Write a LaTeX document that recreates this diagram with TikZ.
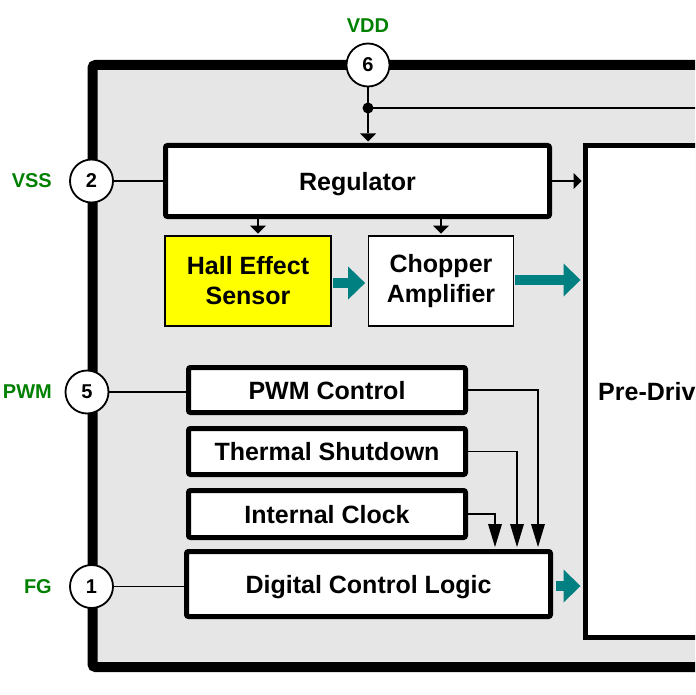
\documentclass[tikz,border=0pt]{standalone}
\usepackage{fontspec}
\setmainfont{Liberation Sans}
\usetikzlibrary{arrows.meta}
\definecolor{pingreen}{RGB}{0,128,0}
\definecolor{bigteal}{RGB}{0,128,128}
\definecolor{bggray}{RGB}{230,230,230}
\definecolor{hallyellow}{RGB}{255,255,0}
\begin{document}
\begin{tikzpicture}[x=1pt,y=-1pt,
  blk/.style={draw=black, line width=5pt, fill=white, rounded corners=2pt, inner sep=0pt,
    text height=18pt, text depth=0pt,
    font=\fontsize{25}{30}\selectfont\bfseries, align=center},
  thinblk/.style={draw=black, line width=1.8pt, inner sep=0pt,
    font=\fontsize{25}{30}\selectfont\bfseries, align=center},
  pin/.style={circle, draw=black, line width=1.8pt, fill=white, minimum size=43pt, inner sep=0pt,
    font=\fontsize{20}{24}\selectfont\bfseries},
  pinlabel/.style={text=pingreen, font=\fontsize{20}{24}\selectfont\bfseries, inner sep=0pt},
  wire/.style={line width=1.5pt, draw=black},
  arr/.style={wire, shorten >=1.5pt, -{Triangle[length=8pt,width=16pt,line width=0pt]}},
  bigarr/.style={wire, shorten >=2pt, -{Triangle[length=23pt,width=14pt,line width=0pt]}},
  fat/.style={draw=bigteal, line width=10pt, shorten >=2.5pt, shorten <=2.5pt,
    -{Triangle[length=17pt,width=33pt,line width=0pt]}},
]
\clip (0,0) rectangle (695,695);
\fill[white] (0,0) rectangle (695,695);
% chip outline
\draw[line width=10pt, fill=bggray, rounded corners=3pt] (92.5,65) rectangle (840,667);

% blocks
\node[blk, minimum width=384pt, minimum height=71pt] (reg) at (357.5,181) {Regulator};
\node[thinblk, fill=hallyellow, minimum width=166pt, minimum height=90pt] (hall) at (248,281) {Hall Effect\\Sensor};
\node[thinblk, fill=white, minimum width=145pt, minimum height=90pt] (chop) at (441,281) {Chopper\\Amplifier};
\node[blk, rounded corners=0pt, minimum width=260pt, minimum height=492pt] (pd) at (715.5,391.5) {};
\node[font=\fontsize{25}{30}\selectfont\bfseries, anchor=west, inner sep=0pt] (pdt) at (598,391.5) {Pre-Driver};
\node[blk, minimum width=277pt, minimum height=45pt] (pwmc) at (327,390) {PWM Control};
\node[blk, minimum width=277pt, minimum height=46pt] (therm) at (327,451.5) {Thermal Shutdown};
\node[blk, minimum width=277pt, minimum height=47pt] (clk) at (327,514) {Internal Clock};
\node[blk, minimum width=364pt, minimum height=65pt] (dcl) at (368.5,584) {Digital Control Logic};

% pins
\node[pin] (p6) at (368,65) {6};
\node[pinlabel] (l6) at (368,26) {VDD};
\node[pin] (p2) at (91.5,181) {2};
\node[pinlabel, anchor=east] (l2) at (52,181) {VSS};
\node[pin] (p5) at (87,392) {5};
\node[pinlabel, anchor=east] (l5) at (52,392) {PWM};
\node[pin] (p1) at (91.5,586.5) {1};
\node[pinlabel, anchor=east] (l1) at (52,586.5) {FG};

% supply wiring
\coordinate (jn) at (368,108);
\coordinate (vddout) at (840,108);
\draw[wire] (p6) -- (jn);
\draw[wire] (jn) -- (vddout);
\fill (jn) circle (5.5pt);
\draw[arr] (jn) -- (reg.north -| jn);
\draw[arr] (reg.east) -- (reg.east -| pd.west);
\coordinate (xh) at (258,0);
\draw[arr] (reg.south -| xh) -- (hall.north -| xh);
\draw[arr] (reg.south -| chop.north) -- (chop.north);

% pin wiring
\draw[wire] (p2) -- (reg.west);
\draw[wire] (p5) -- (p5 -| pwmc.west);
\draw[wire] (p1) -- (p1 -| dcl.west);

% signal path
\coordinate (t1) at (0,283);
\coordinate (t2) at (0,280);
\coordinate (t3) at (0,586);
\draw[fat, shorten <=1pt] (hall.east |- t1) -- (chop.west |- t1);
\draw[fat, shorten <=1pt] (chop.east |- t2) -- (pd.west |- t2);
\draw[fat] (dcl.east |- t3) -- (pd.west |- t3);

% control inputs
\coordinate (xa) at (538,0);
\coordinate (xb) at (517,0);
\coordinate (xc) at (495,0);
\draw[bigarr] (pwmc.east) -| (dcl.north -| xa);
\draw[bigarr] (therm.east) -| (dcl.north -| xb);
\draw[bigarr] (clk.east) -| (dcl.north -| xc);
\end{tikzpicture}
\end{document}
